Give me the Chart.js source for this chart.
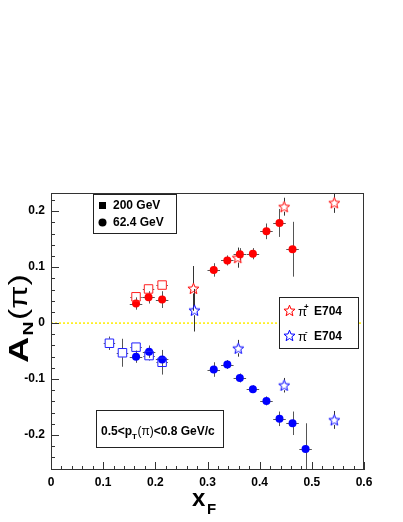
<!DOCTYPE html>
<html>
<head>
<meta charset="utf-8">
<script src="https://cdn.jsdelivr.net/npm/chart.js@4"></script>
<style>
  body { margin: 0; background: #fff; }
  #anChart { display: block; }
</style>
</head>
<body>
<canvas id="anChart" width="403" height="522"></canvas>
<script>
// data
const xTicks = [0, 0.1, 0.2, 0.3, 0.4, 0.5, 0.6];
const yTicks = [-0.2, -0.1, 0, 0.1, 0.2];

const red200X = [0.163, 0.187, 0.213];
const red200Y = [0.047, 0.061, 0.068];
const red200Err = [0.005, 0.006, 0.006];

const blue200X = [0.112, 0.137, 0.163, 0.188, 0.213];
const blue200Y = [-0.036, -0.053, -0.043, -0.058, -0.070];
const blue200Err = [0.012, 0.025, 0.008, 0.009, 0.022];

const red62X = [0.163, 0.187, 0.213, 0.312, 0.338, 0.362, 0.387, 0.413, 0.438, 0.463];
const red62Y = [0.035, 0.046, 0.042, 0.095, 0.112, 0.123, 0.124, 0.164, 0.179, 0.132];
const red62Err = [0.011, 0.011, 0.015, 0.012, 0.009, 0.011, 0.010, 0.014, 0.025, 0.049];

const blue62X = [0.163, 0.188, 0.213, 0.312, 0.338, 0.362, 0.387, 0.413, 0.438, 0.463, 0.488];
const blue62Y = [-0.060, -0.051, -0.065, -0.083, -0.074, -0.098, -0.118, -0.139, -0.171, -0.179, -0.225];
const blue62Err = [0.011, 0.011, 0.013, 0.013, 0.008, 0.008, 0.007, 0.008, 0.013, 0.021, 0.046];

const e704PlusX = [0.273, 0.358, 0.447, 0.543];
const e704PlusY = [0.062, 0.117, 0.208, 0.215];
const e704PlusErr = [0.040, 0.018, 0.016, 0.018];

const e704MinusX = [0.275, 0.359, 0.447, 0.543];
const e704MinusY = [0.023, -0.045, -0.111, -0.173];
const e704MinusErr = [0.038, 0.015, 0.013, 0.016];

const FONT = '"Liberation Sans", Arial, Helvetica, sans-serif';

function pts(xs, ys) {
    return xs.map((x, i) => ({ x: x, y: ys[i] }));
}

// open five point star used as marker
function makeStar(color) {
    const c = document.createElement("canvas");
    c.width = 13;
    c.height = 13;
    const g = c.getContext("2d");
    g.strokeStyle = color;
    g.lineWidth = 1;
    g.beginPath();
    for (let i = 0; i < 10; i++) {
        const r = i % 2 ? 2.5 : 5.8;
        const a = -Math.PI / 2 + (i * Math.PI) / 5;
        g.lineTo(6.5 + r * Math.cos(a), 7 + r * Math.sin(a));
    }
    g.closePath();
    g.stroke();
    return c;
}
const redStar = makeStar("#ff0000");
const blueStar = makeStar("#0000ff");

// error bars, zero line
const errorBars = {
    id: "errorBars",
    beforeDatasetsDraw(chart) {
        const { ctx, chartArea: a, scales } = chart;
        const xs = scales.x, ys = scales.y;
        ctx.save();
        ctx.beginPath();
        ctx.rect(a.left, a.top, a.right - a.left, a.bottom - a.top);
        ctx.clip();

        // yellow dotted line at 0
        const y0 = ys.getPixelForValue(0);
        ctx.strokeStyle = "#ffee00";
        ctx.lineWidth = 1.5;
        ctx.setLineDash([2, 2]);
        ctx.beginPath();
        ctx.moveTo(a.left, y0);
        ctx.lineTo(a.right, y0);
        ctx.stroke();
        ctx.setLineDash([]);

        chart.data.datasets.forEach((ds) => {
            if (!ds.yErr) return;
            const gap = ds.barGap || 0;
            ctx.strokeStyle = ds.errColor || "#555";
            ctx.lineWidth = 1;
            ds.data.forEach((p, j) => {
                const px = xs.getPixelForValue(p.x);
                const py = ys.getPixelForValue(p.y);
                const cx = Math.round(px) + 0.5;
                const cy = Math.round(py) + 0.5;
                const top = ys.getPixelForValue(p.y + ds.yErr[j]);
                const bot = ys.getPixelForValue(p.y - ds.yErr[j]);
                ctx.beginPath();
                if (py - top > gap) {
                    ctx.moveTo(cx, top);
                    ctx.lineTo(cx, py - gap);
                }
                if (bot - py > gap) {
                    ctx.moveTo(cx, py + gap);
                    ctx.lineTo(cx, bot);
                }
                if (ds.xErr) {
                    const l = xs.getPixelForValue(p.x - ds.xErr);
                    const r = xs.getPixelForValue(p.x + ds.xErr);
                    ctx.moveTo(l, cy);
                    ctx.lineTo(px - gap, cy);
                    ctx.moveTo(px + gap, cy);
                    ctx.lineTo(r, cy);
                }
                ctx.stroke();
            });
        });
        ctx.restore();
    },
};

// frame, ticks, titles and legend boxes
const decorations = {
    id: "decorations",
    afterDraw(chart) {
        const { ctx, chartArea: a, scales } = chart;
        const xs = scales.x, ys = scales.y;
        ctx.save();

        ctx.strokeStyle = "#333";
        ctx.lineWidth = 1;
        ctx.strokeRect(a.left + 0.5, a.top + 0.5, a.right - a.left - 1, a.bottom - a.top - 1);

        ctx.beginPath();
        for (let k = 0; k <= 30; k++) {
            const v = k * 0.02;
            const px = Math.round(xs.getPixelForValue(v)) + 0.5;
            const len = k % 5 === 0 ? 8 : 4;
            ctx.moveTo(px, a.bottom);
            ctx.lineTo(px, a.bottom - len);
        }
        for (let k = -13; k <= 11; k++) {
            const v = k * 0.02;
            const py = Math.round(ys.getPixelForValue(v)) + 0.5;
            const len = k % 5 === 0 ? 8 : 4;
            ctx.moveTo(a.left, py);
            ctx.lineTo(a.left + len, py);
        }
        ctx.stroke();

        // y title A_N(pi)
        ctx.fillStyle = "#000";
        ctx.save();
        ctx.translate(28, 363);
        ctx.rotate(-Math.PI / 2);
        ctx.scale(1.3, 1);
        ctx.textBaseline = "alphabetic";
        ctx.font = "bold 28px " + FONT;
        ctx.fillText("A", 0, 0);
        let w = ctx.measureText("A").width;
        ctx.font = "bold 15px " + FONT;
        ctx.fillText("N", w + 1, 5);
        w += ctx.measureText("N").width + 2;
        ctx.font = "26px " + FONT;
        ctx.fillText("(\u03c0)", w, -1);
        ctx.restore();

        // x title x_F
        ctx.font = "bold 24px " + FONT;
        ctx.textBaseline = "alphabetic";
        ctx.fillText("x", 192, 506);
        ctx.font = "bold 15px " + FONT;
        ctx.fillText("F", 207, 514);

        // legend boxes
        ctx.strokeStyle = "#222";
        ctx.lineWidth = 1;
        ctx.fillStyle = "#fff";
        [[93.5, 194.5, 83, 39], [279.5, 297.5, 79, 51], [96.5, 410.5, 127, 37]].forEach((b) => {
            ctx.fillRect(b[0], b[1], b[2], b[3]);
            ctx.strokeRect(b[0], b[1], b[2], b[3]);
        });

        ctx.fillStyle = "#000";
        ctx.fillRect(99, 202, 7, 7);
        ctx.beginPath();
        ctx.arc(102.5, 222.5, 4, 0, Math.PI * 2);
        ctx.fill();
        ctx.textBaseline = "middle";
        ctx.font = "bold 12px " + FONT;
        ctx.fillText("200 GeV", 113, 206);
        ctx.fillText("62.4 GeV", 113, 223);

        ctx.drawImage(redStar, 283, 304);
        ctx.drawImage(blueStar, 283, 329);
        ctx.font = "13px " + FONT;
        ctx.fillText("\u03c0", 298, 312);
        ctx.fillText("\u03c0", 298, 337);
        ctx.font = "bold 8px " + FONT;
        ctx.fillText("+", 304, 307);
        ctx.fillText("-", 305, 332);
        ctx.font = "bold 12px " + FONT;
        ctx.fillText("E704", 314, 312);
        ctx.fillText("E704", 314, 337);

        // pT range text
        let x = 101;
        const yb = 432;
        ctx.font = "bold 12px " + FONT;
        ctx.fillText("0.5<p", x, yb);
        x += ctx.measureText("0.5<p").width;
        ctx.font = "bold 8px " + FONT;
        ctx.fillText("T", x, yb + 5);
        x += ctx.measureText("T").width + 0.5;
        ctx.font = "12px " + FONT;
        ctx.fillText("(\u03c0)", x, yb);
        x += ctx.measureText("(\u03c0)").width;
        ctx.font = "bold 12px " + FONT;
        ctx.fillText("<0.8 GeV/c", x, yb);

        ctx.restore();
    },
};

const fmt = (v) => (Math.abs(v) < 1e-9 ? "0" : v.toFixed(1));

new Chart(document.getElementById("anChart"), {
    type: "scatter",
    data: {
        datasets: [
            {
                label: "200 GeV pi+",
                data: pts(red200X, red200Y),
                yErr: red200Err,
                xErr: 0.011,
                barGap: 4.5,
                pointStyle: "rect",
                pointRadius: 6,
                borderColor: "#ff2020",
                backgroundColor: "rgba(0,0,0,0)",
                borderWidth: 1,
            },
            {
                label: "200 GeV pi-",
                data: pts(blue200X, blue200Y),
                yErr: blue200Err,
                xErr: 0.011,
                barGap: 4.5,
                pointStyle: "rect",
                pointRadius: 6,
                borderColor: "#2020ff",
                backgroundColor: "rgba(0,0,0,0)",
                borderWidth: 1,
            },
            {
                label: "62.4 GeV pi+",
                data: pts(red62X, red62Y),
                yErr: red62Err,
                xErr: 0.012,
                pointStyle: "circle",
                pointRadius: 4,
                borderColor: "#ff0000",
                backgroundColor: "#ff0000",
                borderWidth: 0,
            },
            {
                label: "62.4 GeV pi-",
                data: pts(blue62X, blue62Y),
                yErr: blue62Err,
                xErr: 0.012,
                pointStyle: "circle",
                pointRadius: 4,
                borderColor: "#0000ff",
                backgroundColor: "#0000ff",
                borderWidth: 0,
            },
            {
                label: "pi+ E704",
                data: pts(e704PlusX, e704PlusY),
                yErr: e704PlusErr,
                barGap: 5,
                errColor: "#333",
                pointStyle: redStar,
            },
            {
                label: "pi- E704",
                data: pts(e704MinusX, e704MinusY),
                yErr: e704MinusErr,
                barGap: 5,
                errColor: "#333",
                pointStyle: blueStar,
            },
        ],
    },
    options: {
        responsive: false,
        devicePixelRatio: 1,
        animation: false,
        layout: { padding: { top: 193, right: 39, left: 0, bottom: 0 } },
        plugins: {
            legend: { display: false },
            tooltip: { enabled: false },
        },
        scales: {
            x: {
                type: "linear",
                min: 0,
                max: 0.6,
                afterFit: (scale) => { scale.height = 52; },
                afterBuildTicks: (scale) => { scale.ticks = xTicks.map((v) => ({ value: v })); },
                grid: { display: false, drawTicks: false },
                border: { display: false },
                ticks: {
                    padding: 5,
                    autoSkip: false,
                    maxRotation: 0,
                    color: "#000",
                    font: { family: FONT, size: 12, weight: "bold" },
                    callback: fmt,
                },
            },
            y: {
                type: "linear",
                min: -0.2625,
                max: 0.2325,
                afterFit: (scale) => { scale.width = 51; },
                afterBuildTicks: (scale) => { scale.ticks = yTicks.map((v) => ({ value: v })); },
                grid: { display: false, drawTicks: false },
                border: { display: false },
                ticks: {
                    padding: 6,
                    autoSkip: false,
                    color: "#000",
                    font: { family: FONT, size: 12, weight: "bold" },
                    callback: fmt,
                },
            },
        },
    },
    plugins: [errorBars, decorations],
});
</script>
</body>
</html>
